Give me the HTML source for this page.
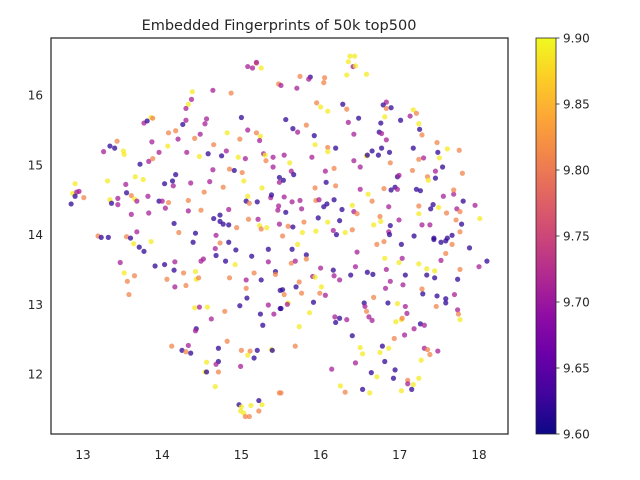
<!DOCTYPE html>
<html><head><meta charset="utf-8">
<style>
html,body{margin:0;padding:0;background:#fff;}
svg{display:block;font-family:"DejaVu Sans","Liberation Sans",sans-serif;}
</style></head>
<body>
<svg id="chart" width="640" height="480" viewBox="0 0 640 480">
<defs>
<linearGradient id="plasma" x1="0" y1="1" x2="0" y2="0">
<stop offset="0" stop-color="#0d0887"/><stop offset="0.1" stop-color="#41049d"/><stop offset="0.2" stop-color="#6a00a8"/><stop offset="0.3" stop-color="#8f0da4"/><stop offset="0.4" stop-color="#b12a90"/><stop offset="0.5" stop-color="#cc4778"/><stop offset="0.6" stop-color="#e16462"/><stop offset="0.7" stop-color="#f2844b"/><stop offset="0.8" stop-color="#fca636"/><stop offset="0.9" stop-color="#fcce25"/><stop offset="1" stop-color="#f0f921"/>
</linearGradient>
<clipPath id="plotclip"><rect x="51" y="38" width="457" height="396"/></clipPath>
</defs>
<text x="279" y="30" text-anchor="middle" font-size="14.5" fill="#262626">Embedded Fingerprints of 50k top500</text>
<g id="points" clip-path="url(#plotclip)"></g>
<rect x="51" y="38" width="457" height="396" fill="none" stroke="#262626" stroke-width="1.25"/>
<g id="xticks"></g>
<g id="yticks"></g>
<rect x="536" y="38" width="20" height="396" fill="url(#plasma)" stroke="#262626" stroke-width="0.8"/>
<g id="cbticks"></g>
</svg>
<script>
const xTicks = [13, 14, 15, 16, 17, 18];
const yTicks = [12, 13, 14, 15, 16];
const cbTicks = [9.60, 9.65, 9.70, 9.75, 9.80, 9.85, 9.90];
const xDomain = [12.596, 18.366];
const yDomain = [11.14, 16.82];
const cDomain = [9.60, 9.90];

const xs = [
15.08,15.14,15.19,15.19,15.25,15.47,15.50,14.38,14.64,14.87,
14.37,14.33,14.30,15.00,14.30,14.26,14.56,14.54,13.77,13.81,
13.86,13.88,14.08,14.17,14.20,14.41,14.48,14.82,15.08,15.19,
15.24,15.23,14.98,13.43,13.34,13.40,13.26,13.51,13.52,13.87,
14.07,13.96,14.31,14.65,14.81,14.58,14.75,14.47,14.96,15.05,
15.28,15.30,15.31,15.40,13.72,13.83,13.88,14.17,14.03,14.13,
14.14,14.36,14.60,14.64,14.85,14.91,15.01,15.03,14.77,14.53,
15.40,15.48,15.48,13.66,13.76,13.54,13.31,12.90,12.87,12.92,
12.95,12.90,13.01,12.85,13.34,13.36,13.44,13.44,13.55,13.61,
13.65,13.68,13.82,13.96,14.00,14.08,14.04,14.33,14.33,14.49,
14.84,15.08,15.06,15.10,15.20,15.26,15.37,15.38,15.47,15.46,
13.61,13.83,14.15,14.65,14.73,14.73,14.77,14.84,14.94,15.09,
15.21,15.23,15.25,15.32,15.48,14.21,14.42,13.68,13.19,13.23,
13.32,13.55,13.60,14.68,
16.37,16.43,16.35,16.41,16.44,16.33,16.58,15.74,15.87,15.85,
16.05,16.04,15.70,15.95,16.00,16.09,16.28,16.33,15.56,15.65,
15.71,15.82,15.92,16.48,16.35,16.42,16.83,16.79,16.89,16.83,
16.81,16.76,17.01,17.13,17.17,17.21,17.24,17.25,17.28,16.74,
16.77,16.83,15.93,16.09,16.09,16.19,15.54,15.89,15.61,16.58,
16.59,16.65,16.73,16.77,16.87,16.42,16.50,16.88,17.17,17.24,
17.30,17.47,17.48,17.50,17.60,17.75,17.54,17.79,15.63,15.66,
15.53,16.17,16.06,16.07,16.19,15.93,16.97,16.99,17.16,17.35,
17.36,17.45,17.45,16.94,16.89,16.97,16.80,16.50,16.60,16.65,
17.21,17.26,17.55,17.68,17.68,17.80,17.95,18.01,15.54,15.64,
15.74,15.76,15.56,15.94,15.98,16.04,16.08,16.17,16.27,16.40,
16.42,16.46,16.86,17.24,17.42,17.39,17.49,17.24,17.59,17.72,
17.76,17.71,17.78,17.76,15.97,16.09,16.24,16.75,16.76,16.67,
16.88,16.99,17.28,17.38,15.59,15.65,15.79,15.77,15.94,16.16,
16.20,16.31,16.40,16.86,16.87,17.18,17.43,17.60,17.66,15.52,
13.64,13.71,13.77,13.86,14.39,13.47,13.52,13.65,13.56,13.58,
13.91,14.03,14.16,14.15,14.06,14.16,14.27,14.30,14.42,14.43,
14.46,14.49,14.52,14.67,14.73,14.84,14.68,14.80,14.93,14.92,
14.85,15.13,15.34,15.34,15.16,15.43,15.43,15.06,15.25,15.06,
15.07,14.98,15.34,15.41,15.24,15.27,14.79,14.41,14.47,14.57,
14.62,14.43,14.42,14.12,14.33,14.25,14.30,14.36,14.71,14.82,
15.00,15.11,15.08,15.20,15.16,15.38,15.39,14.56,14.71,14.68,
14.54,14.56,14.71,14.99,14.67,14.97,15.00,14.99,15.03,15.05,
15.10,15.12,15.22,15.26,15.22,15.48,15.49,15.49,
15.71,15.64,15.82,15.82,15.63,15.68,16.00,15.90,15.93,15.73,
15.69,15.52,15.54,15.76,16.01,15.99,16.06,15.59,15.58,15.50,
15.91,15.86,15.73,15.68,16.16,16.17,16.24,16.38,16.44,16.46,
16.71,16.80,17.02,16.59,16.66,16.83,16.88,16.82,16.81,16.99,
17.03,17.07,17.04,16.67,16.55,16.56,16.58,16.61,16.65,16.85,
16.97,17.07,17.09,16.95,17.02,17.03,16.18,16.19,16.24,16.33,
16.40,16.93,17.06,17.18,17.26,17.31,17.24,17.34,17.44,17.34,
17.44,17.52,17.58,17.66,17.43,17.52,17.58,17.88,18.10,18.00,
17.76,17.73,17.28,17.29,17.47,17.58,17.58,17.46,17.69,17.73,
17.74,17.76,16.78,16.50,16.53,16.75,16.86,16.81,17.31,17.35,
17.38,17.48,17.27,16.44,16.14,16.64,16.94,16.92,16.71,17.10,
17.10,17.17,17.24,17.15,17.02,16.25,16.31,16.53,16.62,15.50
];
const ys = [
16.41,16.39,16.46,16.47,16.39,16.16,16.14,16.05,16.07,16.03,
15.94,15.87,15.81,15.68,15.64,15.58,15.66,15.59,15.60,15.63,
15.68,15.67,15.46,15.49,15.37,15.38,15.44,15.46,15.50,15.46,
15.41,15.35,15.37,15.34,15.27,15.24,15.19,15.20,15.15,15.33,
15.27,15.18,15.18,15.29,15.20,15.16,15.13,15.12,15.11,15.09,
15.16,15.14,15.06,15.11,15.01,15.05,15.09,14.86,14.73,14.77,
14.70,14.74,14.76,14.93,14.94,14.92,14.89,14.77,14.68,14.61,
14.97,14.82,14.75,14.83,14.79,14.72,14.77,14.73,14.59,14.61,
14.62,14.55,14.53,14.44,14.50,14.45,14.52,14.43,14.60,14.56,
14.51,14.48,14.55,14.48,14.48,14.46,14.38,14.49,14.34,14.35,
14.36,14.55,14.48,14.45,14.47,14.67,14.53,14.57,14.41,14.35,
14.29,14.31,14.16,14.23,14.28,14.19,14.15,14.14,14.10,14.22,
14.22,14.13,14.08,14.10,14.15,14.03,14.02,14.04,13.98,13.96,
13.96,13.97,13.95,13.99,
16.56,16.56,16.48,16.41,16.42,16.29,16.30,16.27,16.26,16.23,
16.25,16.18,16.10,15.89,15.83,15.77,15.87,15.80,15.65,15.52,
15.47,15.57,15.42,15.67,15.61,15.44,15.90,15.86,15.82,15.81,
15.69,15.60,15.64,15.70,15.79,15.74,15.59,15.51,15.43,15.47,
15.45,15.36,15.29,15.25,15.19,15.24,15.14,15.11,15.03,15.13,
15.14,15.20,15.14,15.24,15.18,15.06,14.97,15.03,15.24,15.08,
15.10,15.32,15.18,15.10,15.23,15.21,14.97,14.88,14.91,14.86,
14.78,14.95,14.91,14.75,14.70,14.67,14.83,14.85,14.92,14.83,
14.78,14.91,14.81,14.68,14.64,14.65,14.66,14.65,14.58,14.48,
14.65,14.63,14.55,14.58,14.64,14.48,14.42,14.23,14.54,14.47,
14.49,14.37,14.32,14.49,14.50,14.40,14.44,14.50,14.36,14.42,
14.33,14.30,14.40,14.41,14.43,14.37,14.39,14.30,14.31,14.37,
14.33,14.21,14.15,14.04,14.24,14.18,14.20,14.26,14.19,14.14,
14.13,14.21,14.14,14.14,14.12,14.11,14.18,14.03,14.05,14.06,
14.00,14.03,14.07,14.04,14.00,13.98,13.95,13.95,13.99,13.98,
13.87,13.82,13.76,13.90,13.89,13.60,13.45,13.41,13.33,13.14,
13.55,13.57,13.61,13.49,13.36,13.25,13.45,13.27,13.47,13.36,
13.38,13.62,13.65,13.80,13.88,13.89,13.70,13.62,13.78,13.57,
13.38,13.69,13.79,13.61,13.45,13.47,13.43,13.35,13.35,13.23,
13.09,12.98,12.99,12.86,12.86,12.70,12.90,12.95,12.96,12.96,
12.79,12.65,12.62,12.40,12.41,12.34,12.32,12.30,12.37,12.47,
12.34,12.33,12.27,12.34,12.23,12.35,12.34,12.17,12.18,12.14,
12.03,12.03,12.03,12.11,11.82,11.56,11.53,11.47,11.44,11.39,
11.39,11.55,11.62,11.56,11.47,11.73,13.20,12.94,
13.86,13.79,13.71,13.65,13.59,13.62,13.52,13.40,13.39,13.32,
13.25,13.21,13.14,13.16,13.25,13.16,13.13,13.02,13.00,12.94,
13.03,12.88,12.68,12.40,13.49,13.41,13.35,13.42,13.54,13.75,
13.86,13.90,13.86,13.46,13.43,13.50,13.33,13.23,13.66,13.60,
13.66,13.42,13.28,13.10,13.02,12.97,12.90,12.82,12.77,13.02,
13.01,12.97,12.87,12.75,12.78,12.80,12.82,12.74,12.80,12.78,
12.55,12.51,12.56,12.65,12.72,12.70,13.58,13.51,13.48,13.42,
13.38,13.63,13.73,13.86,13.93,13.89,13.91,13.81,13.62,13.54,
13.50,13.36,13.22,13.15,13.12,13.08,13.02,12.97,13.14,12.92,
12.86,12.78,12.40,12.38,12.29,12.31,12.37,12.18,12.37,12.35,
12.28,12.33,12.20,12.16,12.07,12.02,12.06,11.94,11.96,11.91,
11.86,11.85,11.94,11.78,11.76,11.83,11.74,11.78,11.73,11.73
];
const vs = [
9.71,9.71,9.81,9.71,9.89,9.81,9.71,9.89,9.71,9.81,
9.71,9.89,9.71,9.62,9.71,9.62,9.71,9.71,9.71,9.62,
9.89,9.81,9.81,9.81,9.71,9.81,9.71,9.89,9.71,9.81,
9.89,9.71,9.81,9.81,9.62,9.62,9.71,9.89,9.89,9.71,
9.89,9.71,9.71,9.81,9.71,9.62,9.62,9.89,9.89,9.71,
9.71,9.89,9.81,9.71,9.62,9.71,9.81,9.62,9.62,9.62,
9.71,9.71,9.71,9.71,9.81,9.62,9.81,9.89,9.81,9.81,
9.71,9.62,9.71,9.89,9.89,9.71,9.89,9.89,9.89,9.71,
9.71,9.62,9.81,9.62,9.89,9.62,9.71,9.71,9.62,9.81,
9.89,9.71,9.71,9.62,9.71,9.81,9.71,9.81,9.71,9.81,
9.71,9.89,9.62,9.81,9.62,9.89,9.71,9.62,9.71,9.71,
9.71,9.71,9.62,9.62,9.62,9.62,9.62,9.62,9.81,9.81,
9.71,9.89,9.81,9.89,9.71,9.81,9.62,9.71,9.81,9.62,
9.62,9.81,9.62,9.71,
9.89,9.89,9.89,9.71,9.89,9.89,9.89,9.81,9.62,9.71,
9.81,9.81,9.71,9.81,9.89,9.89,9.62,9.81,9.62,9.62,
9.71,9.81,9.62,9.62,9.71,9.71,9.71,9.62,9.62,9.81,
9.89,9.62,9.62,9.71,9.89,9.81,9.89,9.62,9.81,9.62,
9.71,9.71,9.89,9.81,9.89,9.62,9.71,9.71,9.89,9.89,
9.62,9.62,9.62,9.62,9.62,9.71,9.71,9.81,9.62,9.81,
9.71,9.81,9.62,9.89,9.89,9.81,9.62,9.81,9.71,9.62,
9.62,9.81,9.71,9.62,9.81,9.81,9.62,9.71,9.81,9.81,
9.89,9.71,9.62,9.62,9.62,9.71,9.81,9.71,9.89,9.81,
9.62,9.62,9.71,9.71,9.81,9.62,9.71,9.89,9.71,9.71,
9.71,9.71,9.62,9.81,9.71,9.62,9.62,9.62,9.62,9.89,
9.71,9.81,9.71,9.81,9.62,9.62,9.89,9.89,9.81,9.71,
9.81,9.81,9.62,9.81,9.62,9.89,9.62,9.81,9.89,9.89,
9.62,9.71,9.71,9.71,9.81,9.62,9.81,9.89,9.89,9.71,
9.62,9.89,9.81,9.71,9.62,9.62,9.62,9.62,9.62,9.81,
9.89,9.62,9.62,9.89,9.62,9.71,9.89,9.81,9.81,9.81,
9.62,9.62,9.71,9.62,9.81,9.71,9.81,9.81,9.89,9.89,
9.81,9.71,9.71,9.71,9.81,9.62,9.62,9.62,9.62,9.89,
9.81,9.62,9.62,9.71,9.81,9.62,9.81,9.71,9.62,9.81,
9.62,9.62,9.71,9.71,9.62,9.62,9.81,9.89,9.71,9.89,
9.71,9.62,9.71,9.81,9.71,9.62,9.81,9.62,9.62,9.81,
9.81,9.81,9.89,9.62,9.62,9.89,9.62,9.89,9.62,9.71,
9.89,9.62,9.81,9.71,9.89,9.62,9.89,9.89,9.89,9.81,
9.81,9.89,9.62,9.89,9.81,9.81,9.62,9.62,
9.89,9.62,9.62,9.81,9.81,9.71,9.71,9.71,9.89,9.81,
9.62,9.62,9.81,9.81,9.89,9.81,9.71,9.89,9.71,9.62,
9.62,9.89,9.89,9.81,9.62,9.71,9.71,9.62,9.71,9.71,
9.81,9.81,9.62,9.62,9.62,9.71,9.71,9.71,9.89,9.89,
9.71,9.62,9.71,9.81,9.62,9.71,9.81,9.71,9.71,9.62,
9.89,9.71,9.71,9.89,9.89,9.81,9.71,9.62,9.62,9.71,
9.62,9.81,9.71,9.71,9.62,9.71,9.89,9.89,9.89,9.62,
9.62,9.71,9.81,9.81,9.62,9.62,9.62,9.62,9.62,9.71,
9.81,9.62,9.81,9.62,9.62,9.62,9.62,9.81,9.71,9.71,
9.81,9.89,9.62,9.89,9.89,9.89,9.89,9.62,9.71,9.81,
9.81,9.71,9.89,9.71,9.71,9.62,9.62,9.62,9.89,9.81,
9.71,9.89,9.89,9.62,9.89,9.89,9.81,9.62,9.89,9.81
];

const PL = [[13,8,135],[65,4,157],[106,0,168],[143,13,164],[177,42,144],[204,71,120],[225,100,98],[242,132,75],[252,166,54],[252,206,37],[240,249,33]];
function plasma(t){
  t = Math.max(0, Math.min(1, t));
  const f = t * 10, i = Math.min(9, Math.floor(f)), r = f - i;
  const a = PL[i], b = PL[i+1];
  return 'rgb(' + a.map((v,k)=>Math.round(v + (b[k]-v)*r)).join(',') + ')';
}
const PX0 = 51, PX1 = 508, PY0 = 434, PY1 = 38;
function sx(v){ return PX0 + (v - xDomain[0]) / (xDomain[1] - xDomain[0]) * (PX1 - PX0); }
function sy(v){ return PY0 - (v - yDomain[0]) / (yDomain[1] - yDomain[0]) * (PY0 - PY1); }
function sc(v){ return PY0 - (v - cDomain[0]) / (cDomain[1] - cDomain[0]) * (PY0 - PY1); }
const NS = 'http://www.w3.org/2000/svg';

const pg = document.getElementById('points');
const n = Math.min(xs.length, ys.length, vs.length);
for (let i = 0; i < n; i++) {
  const c = document.createElementNS(NS, 'circle');
  c.setAttribute('cx', sx(xs[i]).toFixed(2));
  c.setAttribute('cy', sy(ys[i]).toFixed(2));
  c.setAttribute('r', '2.6');
  c.setAttribute('fill', plasma((vs[i] - cDomain[0]) / (cDomain[1] - cDomain[0])));
  c.setAttribute('fill-opacity', '0.75');
  
  
  pg.appendChild(c);
}

const xg = document.getElementById('xticks');
xTicks.forEach(v => {
  const t = document.createElementNS(NS, 'text');
  t.setAttribute('x', sx(v).toFixed(1));
  t.setAttribute('y', '459');
  t.setAttribute('text-anchor', 'middle');
  t.setAttribute('font-size', '12');
  t.setAttribute('fill', '#262626');
  
  
  t.textContent = v;
  xg.appendChild(t);
});
const yg = document.getElementById('yticks');
yTicks.forEach(v => {
  const t = document.createElementNS(NS, 'text');
  t.setAttribute('x', '43');
  t.setAttribute('y', (sy(v) + 4.5).toFixed(1));
  t.setAttribute('text-anchor', 'end');
  t.setAttribute('font-size', '12');
  t.setAttribute('fill', '#262626');
  
  
  t.textContent = v;
  yg.appendChild(t);
});
const cg = document.getElementById('cbticks');
cbTicks.forEach(v => {
  const y = sc(v);
  const l = document.createElementNS(NS, 'line');
  l.setAttribute('x1', '556'); l.setAttribute('x2', '559.5');
  l.setAttribute('y1', y.toFixed(1)); l.setAttribute('y2', y.toFixed(1));
  l.setAttribute('stroke', '#262626'); l.setAttribute('stroke-width', '0.8');
  
  
  cg.appendChild(l);
  const t = document.createElementNS(NS, 'text');
  t.setAttribute('x', '563');
  t.setAttribute('y', (y + 4.5).toFixed(1));
  t.setAttribute('font-size', '12');
  t.setAttribute('fill', '#262626');
  
  
  t.textContent = v.toFixed(2);
  cg.appendChild(t);
});
</script>
</body></html>
